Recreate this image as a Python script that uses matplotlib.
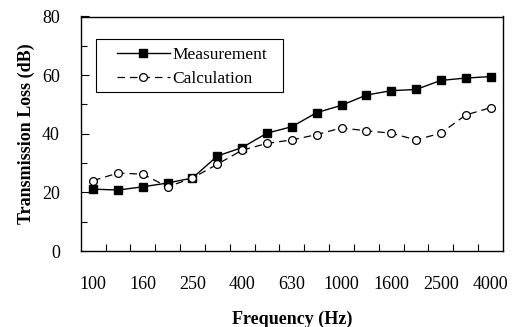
import matplotlib
matplotlib.use("Agg")
import matplotlib.pyplot as plt
from matplotlib.patches import Rectangle
import numpy as np

freqs = ["100", "125", "160", "200", "250", "315", "400", "500", "630", "800",
         "1000", "1250", "1600", "2000", "2500", "3150", "4000"]
measurement = [21.1, 20.8, 21.9, 23.2, 24.9, 32.4, 35.3, 40.2, 42.4, 47.2,
               49.7, 53.2, 54.7, 55.1, 58.2, 59.0, 59.5]
calculation = [24.0, 26.6, 26.2, 21.9, 24.9, 29.6, 34.4, 36.7, 37.9, 39.7,
               42.0, 41.0, 40.2, 37.9, 40.2, 46.4, 48.9]
y_ticks = [0, 20, 40, 60, 80]

plt.rcParams['font.family'] = ['Liberation Serif', 'DejaVu Serif']

fig = plt.figure(figsize=(5.18, 3.27), dpi=100)
ax = fig.add_axes([80.7 / 518, 1 - 251 / 327, (503 - 80.7) / 518, (251 - 16.5) / 327])

x = np.arange(len(freqs))
ax.plot(x, measurement, color='black', lw=1.0, marker='s', ms=6.2,
        markerfacecolor='black', markeredgecolor='black', label='Measurement', zorder=3)
ax.plot(x, calculation, color='black', lw=0.9, dashes=(6, 4), marker='o', ms=5.6,
        markerfacecolor='white', markeredgecolor='black', markeredgewidth=0.9,
        label='Calculation', zorder=3)

ax.set_xlim(-0.5, len(freqs) - 0.5)
ax.set_ylim(0, 80)
ax.set_yticks(y_ticks)
ax.set_yticks(np.arange(10, 80, 20), minor=True)
ax.tick_params(axis='y', which='major', direction='in', length=5.5, width=0.8, labelsize=13, pad=15)
ax.tick_params(axis='y', which='minor', direction='in', length=4, width=0.8)

# x: boundary ticks, labels at every other category
ax.set_xticks(np.arange(0.5, len(freqs) - 1, 1.0), minor=True)
ax.set_xticks(x[::2])
ax.set_xticklabels(freqs[::2])
ax.tick_params(axis='x', which='major', length=0, labelsize=13, pad=18)
ax.tick_params(axis='x', which='minor', direction='in', length=5, width=0.8)

for s in ax.spines.values():
    s.set_linewidth(1.0)

ax.set_ylabel('Transmission Loss (dB)', fontsize=13, fontweight='bold', labelpad=5)
ax.set_xlabel('Frequency (Hz)', fontsize=13, fontweight='bold', labelpad=13)

# legend frame and entries
ax.add_patch(Rectangle((0.0362, 0.678), 0.4428, 0.226, transform=ax.transAxes,
                       facecolor='white', edgecolor='black', lw=0.8, zorder=4))
leg = ax.legend(loc='upper left', bbox_to_anchor=(0.086, 0.870),
                fontsize=12.5, frameon=False, handlelength=3.05, borderpad=0,
                labelspacing=0.45, handletextpad=0.12, borderaxespad=0)
leg.set_zorder(5)

fig.savefig('out.png', dpi=100)
